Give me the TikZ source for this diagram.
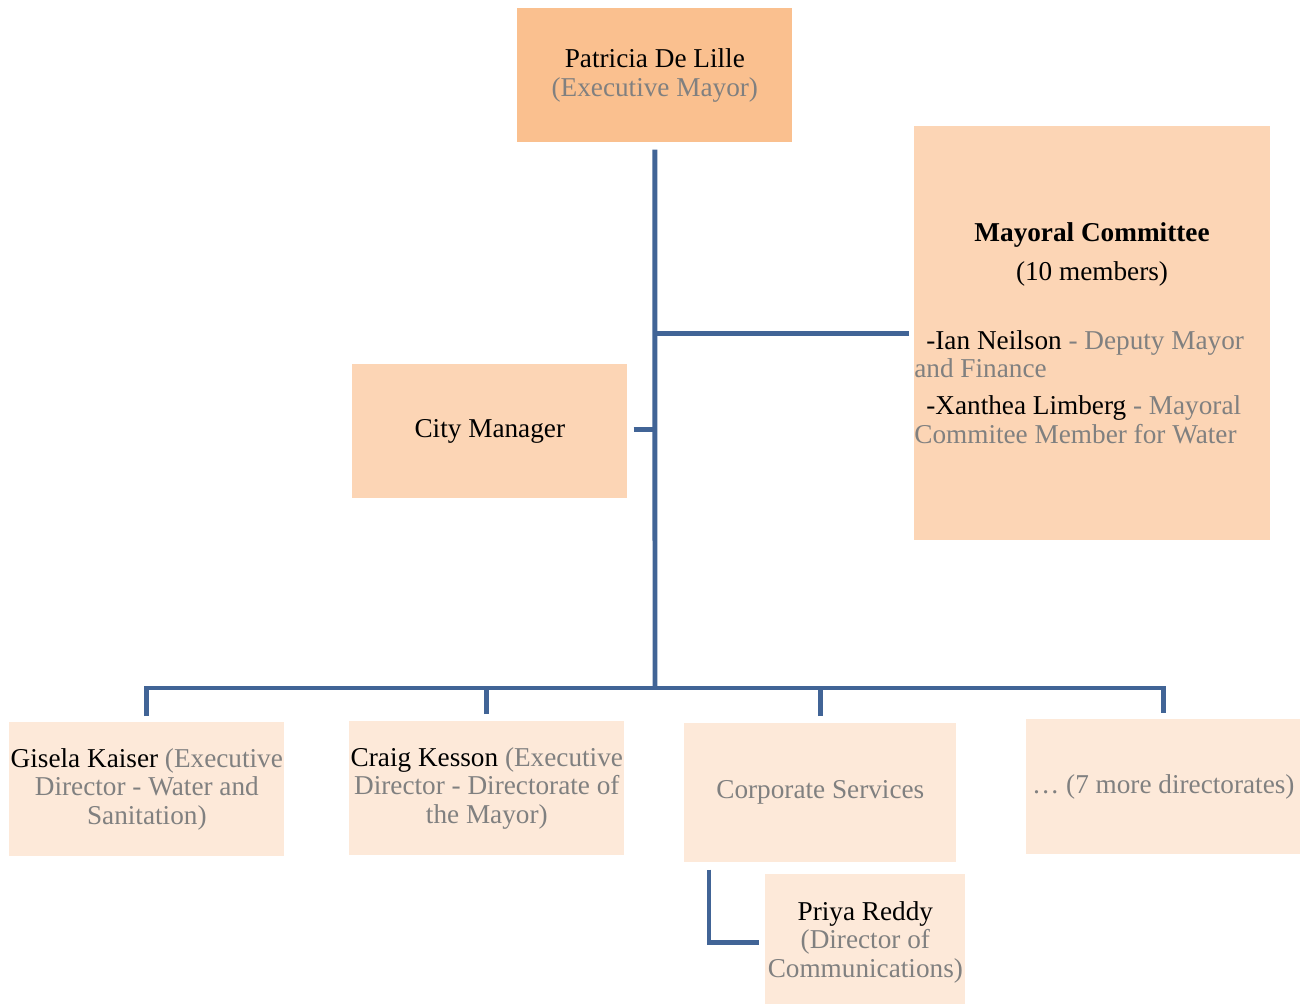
\documentclass[tikz,border=0pt]{standalone}
\usepackage{fontspec}
\setmainfont{Liberation Serif}
\usetikzlibrary{calc}

\definecolor{mayorfill}{RGB}{250,192,143}
\definecolor{maycofill}{RGB}{252,213,181}
\definecolor{dirfill}{RGB}{253,233,217}
\definecolor{linkblue}{RGB}{65,100,150}
\definecolor{roletext}{RGB}{128,128,128}
\newcommand{\role}[1]{\textcolor{roletext}{#1}}

\tikzset{
	orgbox/.style={anchor=north west, inner sep=0pt, align=center, font=\fontsize{15.5}{16.3}\selectfont},
	orgtext/.style={inner sep=0pt, font=\fontsize{15.5}{16.3}\selectfont},
	wire/.style={draw=linkblue, line width=2.8pt},
}

\begin{document}
\begin{tikzpicture}[x=0.02cm, y=-0.02cm]
	\useasboundingbox (0,0) rectangle (1305,1004);
	% boxes
	\node[orgbox, fill=mayorfill, minimum width=5.5cm, minimum height=2.68cm] (mayor) at (517,8) {Patricia De Lille\\\role{(Executive Mayor)}};
	\node[orgbox, fill=maycofill, minimum width=7.12cm, minimum height=8.28cm] (committee) at (914,126) {};
	\node[orgbox, fill=maycofill, minimum width=5.5cm, minimum height=2.68cm] (city) at (352,364) {City Manager};
	\node[orgbox, fill=dirfill, minimum width=5.5cm, minimum height=2.68cm] (gisela) at (9,722) {Gisela Kaiser \role{(Executive}\\\role{Director - Water and}\\\role{Sanitation)}};
	\node[orgbox, fill=dirfill, minimum width=5.5cm, minimum height=2.68cm] (craig) at (349,721) {Craig Kesson \role{(Executive}\\\role{Director - Directorate of}\\\role{the Mayor)}};
	\node[orgbox, fill=dirfill, minimum width=5.44cm, minimum height=2.78cm] (corporate) at (684,723) {\role{Corporate Services}};
	\node[orgbox, fill=dirfill, minimum width=5.48cm, minimum height=2.7cm] (more) at (1026,719) {\role{\ldots\ (7 more directorates)}};
	\node[orgbox, fill=dirfill, minimum width=4cm, minimum height=2.72cm] (priya) at (765,874) {Priya Reddy\\\role{(Director of}\\\role{Communications)}};
	% committee text
	\node[orgtext, font=\fontsize{15.5}{16.3}\selectfont\bfseries] (mctitle) at (1092,235) {Mayoral Committee};
	\node[orgtext] (mcsize) at (1092,274) {(10 members)};
	\node[orgtext, anchor=west, align=left] (neilson) at (914,354) {\hspace{0.24cm}-Ian Neilson \role{- Deputy Mayor}\\\role{and Finance}};
	\node[orgtext, anchor=west, align=left] (limberg) at (914,420) {\hspace{0.24cm}-Xanthea Limberg \role{- Mayoral}\\\role{Commitee Member for Water}};
	% connectors
	\coordinate (bus) at (655,688);
	\draw[wire] ($(mayor.south)+(0,7)$) -- (bus);
	\draw[wire] ($(committee.west)+(-5,0)$) -- (mayor.south |- committee.west);
	\draw[wire] ($(city.east)+(6,-2)$) -- (mayor.south |- {$(city.east)+(0,-2)$});
	\draw[wire] ($(gisela.north)+(0,-6)$) |- (bus) -| ($(more.north)+(0,-6)$);
	\draw[wire] ($(craig.north)+(0,-7)$) -- (craig.north |- bus);
	\draw[wire] ($(corporate.north)+(0,-7)$) -- (corporate.north |- bus);
	\draw[wire] ($(corporate.south west)+(25,7)$) |- ($(priya.west)+(-6,0)$);
\end{tikzpicture}
\end{document}
